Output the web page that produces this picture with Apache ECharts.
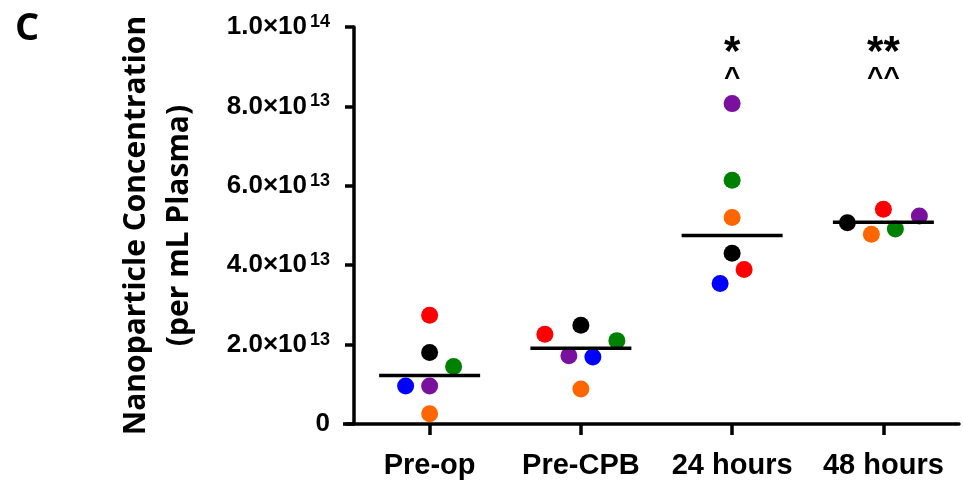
<!DOCTYPE html>
<html>
<head>
<meta charset="utf-8">
<script src="https://cdn.jsdelivr.net/npm/echarts@6/dist/echarts.min.js"></script>
<style>
html,body{margin:0;padding:0;background:#fff;}
#chart{width:963px;height:483px;}
</style>
</head>
<body>
<div id="chart"></div>
<script>
// ---- data ----
var categories = ['Pre-op', 'Pre-CPB', '24 hours', '48 hours'];
var yTickLabels = ['0', '2.0×10^13', '4.0×10^13', '6.0×10^13', '8.0×10^13', '1.0×10^14'];
// nanoparticles per mL plasma, one array per patient (colour)
var redPatient    = [2.74e13, 2.26e13, 3.89e13, 5.41e13];
var blackPatient  = [1.80e13, 2.49e13, 4.30e13, 5.07e13];
var greenPatient  = [1.45e13, 2.10e13, 6.14e13, 4.91e13];
var bluePatient   = [0.96e13, 1.69e13, 3.54e13, null];
var purplePatient = [0.96e13, 1.72e13, 8.07e13, 5.24e13];
var orangePatient = [0.26e13, 0.88e13, 5.20e13, 4.78e13];
var medians       = [1.22e13, 1.91e13, 4.75e13, 5.08e13];
var annotStars    = ['', '', '*', '**'];
var annotCarets   = ['', '', '^', '^^'];

// ---- layout (beeswarm offsets in px, styles) ----
var patients = [
  {name: 'red',    values: redPatient,    color: '#ff0000', dx: [0, -36, 12, 0]},
  {name: 'black',  values: blackPatient,  color: '#000000', dx: [0, 0, 0, -36]},
  {name: 'green',  values: greenPatient,  color: '#008000', dx: [24, 36, 0, 12]},
  {name: 'blue',   values: bluePatient,   color: '#0000ff', dx: [-24, 12, -12, 0]},
  {name: 'purple', values: purplePatient, color: '#7a109e', dx: [0, -12, 0, 36]},
  {name: 'orange', values: orangePatient, color: '#ff6600', dx: [0, 0, 0, -12]}
];

var series = patients.map(function (p) {
  return {
    name: p.name,
    type: 'scatter',
    symbol: 'circle',
    symbolSize: 17,
    itemStyle: {color: p.color, opacity: 1},
    z: 3,
    data: p.values.map(function (v, i) {
      return v == null ? null : {value: [i, v], symbolOffset: [p.dx[i], 0]};
    })
  };
});
series.push({
  name: 'median',
  type: 'scatter',
  symbol: 'rect',
  symbolSize: [101, 3.5],
  itemStyle: {color: '#000', opacity: 1},
  z: 5,
  data: medians.map(function (v, i) { return [i, v]; })
});

var chart = echarts.init(document.getElementById('chart'), null, {renderer: 'canvas'});
chart.setOption({
  animation: false,
  backgroundColor: '#fff',
  title: {
    text: 'C', left: 10, top: 5,
    textStyle: {fontFamily: 'Open Sans', fontWeight: 'bold', fontSize: 38, color: '#000'}
  },
  grid: {left: 354, right: 4, top: 27, bottom: 59},
  xAxis: {
    type: 'category',
    data: categories,
    boundaryGap: true,
    axisLine: {lineStyle: {color: '#000', width: 3.5}},
    axisTick: {show: true, alignWithLabel: true, length: 11, lineStyle: {color: '#000', width: 3.5}},
    axisLabel: {color: '#000', fontFamily: 'Liberation Sans', fontWeight: 'bold', fontSize: 29, margin: 27, interval: 0},
    splitLine: {show: false}
  },
  yAxis: {
    type: 'value',
    min: 0, max: 1e14, interval: 2e13,
    name: 'Nanoparticle Concentration\n(per mL Plasma)',
    nameLocation: 'middle',
    nameRotate: 90,
    nameGap: 153,
    nameTextStyle: {fontFamily: 'Open Sans', fontWeight: 'bold', fontSize: 30, color: '#000', lineHeight: 43, align: 'center'},
    axisLine: {show: true, lineStyle: {color: '#000', width: 3.5}},
    axisTick: {show: true, length: 9, lineStyle: {color: '#000', width: 3.5}},
    splitLine: {show: false},
    axisLabel: {
      margin: 24,
      color: '#000',
      formatter: function (v) {
        var idx = Math.round(v / 2e13);
        var t = yTickLabels[idx];
        if (t.indexOf('^') < 0) return '{m|' + t + '}';
        var parts = t.split('^');
        return '{m|' + parts[0] + '}{s|' + parts[1] + '}';
      },
      rich: {
        m: {fontFamily: 'Liberation Sans', fontWeight: 'bold', fontSize: 26, lineHeight: 28, color: '#000'},
        s: {fontFamily: 'Liberation Sans', fontWeight: 'bold', fontSize: 18, lineHeight: 18, verticalAlign: 'top', padding: [0, 0, 0, 3], color: '#000'}
      }
    }
  },
  series: series
});

// significance annotations placed above the top of each group via the axis scale
var gfx = [];
var topVal = 1e14;
categories.forEach(function (c, i) {
  var pt = chart.convertToPixel({gridIndex: 0}, [i, topVal]);
  if (annotStars[i]) {
    gfx.push({type: 'text', x: pt[0], y: pt[1] + 26, style: {text: annotStars[i], fill: '#000',
      font: 'bold 42px "Liberation Sans"', align: 'center', verticalAlign: 'middle'}, z: 10});
  }
  if (annotCarets[i]) {
    gfx.push({type: 'text', x: pt[0], y: pt[1] + 51, style: {text: annotCarets[i], fill: '#000',
      font: 'bold 28px "Liberation Sans"', align: 'center', verticalAlign: 'middle'}, z: 10});
  }
});
// x-axis overhang to the left of the y-axis
var o = chart.convertToPixel({gridIndex: 0}, [0, 0]);
var yAxisX = 354;
gfx.push({type: 'line', shape: {x1: yAxisX - 11, y1: o[1], x2: yAxisX, y2: o[1]},
  style: {stroke: '#000', lineWidth: 3.5}, z: 10});
chart.setOption({graphic: gfx});
</script>
</body>
</html>
